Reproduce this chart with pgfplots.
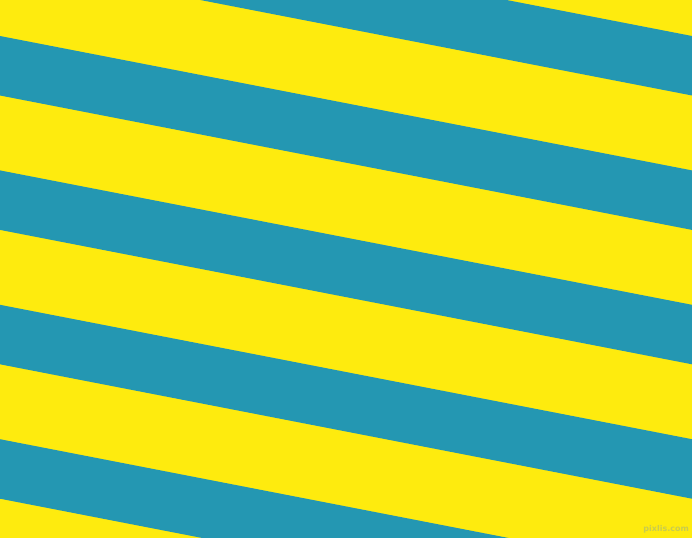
\documentclass[border=0pt]{standalone}
\usepackage{pgfplots}
\pgfplotsset{compat=1.18}
\usepackage{fontspec}
\setmainfont{DejaVu Sans}
\definecolor{bgyellow}{HTML}{FEEB0E}
\definecolor{stripeblue}{HTML}{2497B2}
\definecolor{marktext}{HTML}{C9CC4E}

\begin{document}
\begin{tikzpicture}
\begin{axis}[
  scale only axis,
  width=692bp, height=538bp,
  xmin=0, xmax=692, ymin=0, ymax=538,
  y dir=reverse,
  hide axis,
  clip=true,
]
% background
\addplot[fill=bgyellow, draw=none] coordinates {(0,0) (692,0) (692,538) (0,538)} -- cycle;
% slanted stripes (left edge y, right edge y)
\addplot[fill=stripeblue, draw=none] coordinates {(0,-98.4) (692,36.0) (692,95.5) (0,-38.9)} -- cycle;
\addplot[fill=stripeblue, draw=none] coordinates {(0,36.0) (692,170.4) (692,229.9) (0,95.5)} -- cycle;
\addplot[fill=stripeblue, draw=none] coordinates {(0,170.4) (692,304.8) (692,364.3) (0,229.9)} -- cycle;
\addplot[fill=stripeblue, draw=none] coordinates {(0,304.8) (692,439.2) (692,498.7) (0,364.3)} -- cycle;
\addplot[fill=stripeblue, draw=none] coordinates {(0,439.2) (692,573.6) (692,633.1) (0,498.7)} -- cycle;
\node[anchor=south east, inner sep=0pt, text=marktext, font=\fontsize{8}{8}\selectfont\bfseries]
  at (axis cs:689,533) {pixlis.com};
\end{axis}
\end{tikzpicture}
\end{document}
